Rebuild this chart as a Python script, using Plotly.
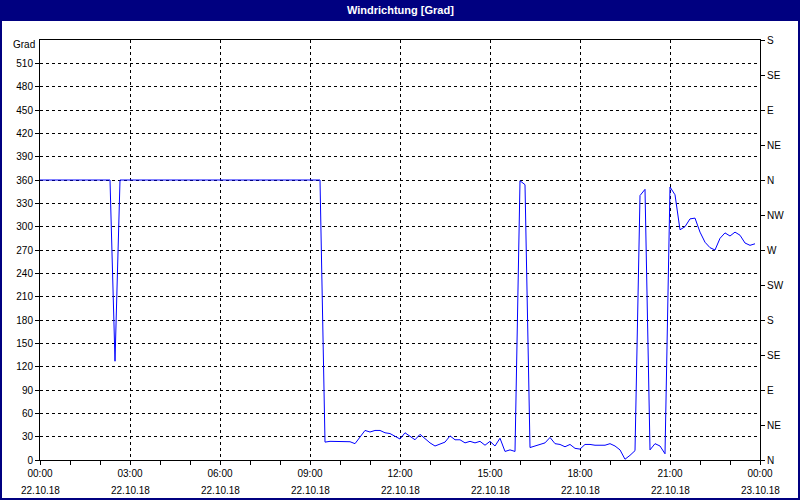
import plotly.graph_objects as go

# ---- data ----
times = [
    "2018-10-22 00:00", "2018-10-22 02:20", "2018-10-22 02:30", "2018-10-22 02:40",
    "2018-10-22 09:20", "2018-10-22 09:30", "2018-10-22 09:40", "2018-10-22 09:50",
    "2018-10-22 10:00", "2018-10-22 10:10", "2018-10-22 10:20", "2018-10-22 10:30",
    "2018-10-22 10:40", "2018-10-22 10:50", "2018-10-22 11:00", "2018-10-22 11:10",
    "2018-10-22 11:20", "2018-10-22 11:30", "2018-10-22 11:40", "2018-10-22 11:50",
    "2018-10-22 12:00", "2018-10-22 12:10", "2018-10-22 12:20", "2018-10-22 12:30",
    "2018-10-22 12:40", "2018-10-22 12:50", "2018-10-22 13:00", "2018-10-22 13:10",
    "2018-10-22 13:20", "2018-10-22 13:30", "2018-10-22 13:40", "2018-10-22 13:50",
    "2018-10-22 14:00", "2018-10-22 14:10", "2018-10-22 14:20", "2018-10-22 14:30",
    "2018-10-22 14:40", "2018-10-22 14:50", "2018-10-22 15:00", "2018-10-22 15:10",
    "2018-10-22 15:20", "2018-10-22 15:30", "2018-10-22 15:40", "2018-10-22 15:50",
    "2018-10-22 16:00", "2018-10-22 16:10", "2018-10-22 16:20", "2018-10-22 16:30",
    "2018-10-22 16:40", "2018-10-22 16:50", "2018-10-22 17:00", "2018-10-22 17:10",
    "2018-10-22 17:20", "2018-10-22 17:30", "2018-10-22 17:40", "2018-10-22 17:50",
    "2018-10-22 18:00", "2018-10-22 18:10", "2018-10-22 18:20", "2018-10-22 18:30",
    "2018-10-22 18:40", "2018-10-22 18:50", "2018-10-22 19:00", "2018-10-22 19:10",
    "2018-10-22 19:20", "2018-10-22 19:30", "2018-10-22 19:40", "2018-10-22 19:50",
    "2018-10-22 20:00", "2018-10-22 20:10", "2018-10-22 20:20", "2018-10-22 20:30",
    "2018-10-22 20:40", "2018-10-22 20:50", "2018-10-22 21:00", "2018-10-22 21:10",
    "2018-10-22 21:20", "2018-10-22 21:30", "2018-10-22 21:40", "2018-10-22 21:50",
    "2018-10-22 22:00", "2018-10-22 22:10", "2018-10-22 22:20", "2018-10-22 22:30",
    "2018-10-22 22:40", "2018-10-22 22:50", "2018-10-22 23:00", "2018-10-22 23:10",
    "2018-10-22 23:20", "2018-10-22 23:30", "2018-10-22 23:40", "2018-10-22 23:50",
]
direction = [
    360, 360, 127, 360,
    360, 23, 24, 24,
    23.5, 23.5, 23.5, 21,
    29, 38, 36, 38,
    38, 35, 34, 31,
    27, 35, 30, 26,
    33, 27, 22, 18,
    20, 23, 31, 26,
    26, 22, 24, 22,
    24, 19, 24, 18,
    28, 11, 13, 11,
    359, 354, 16, 18,
    19, 22, 29, 21,
    20, 17, 20, 15,
    14, 20, 20, 19,
    19, 19, 21, 18,
    13, 1, 6, 12,
    340, 348, 13, 21,
    18, 8, 351, 341,
    296, 300, 310, 311,
    293, 280, 273, 270,
    285, 292, 288, 293,
    289, 279, 276, 278,
]

x_tick_times = ["2018-10-22 00:00", "2018-10-22 03:00", "2018-10-22 06:00",
                "2018-10-22 09:00", "2018-10-22 12:00", "2018-10-22 15:00",
                "2018-10-22 18:00", "2018-10-22 21:00", "2018-10-23 00:00"]
x_tick_hours = ["00:00", "03:00", "06:00", "09:00", "12:00", "15:00",
                "18:00", "21:00", "00:00"]
x_tick_dates = ["22.10.18"] * 8 + ["23.10.18"]

y_ticks = list(range(0, 540, 30))
compass_vals = list(range(0, 541, 45))
compass_labels = ["N", "NE", "E", "SE", "S", "SW", "W", "NW",
                  "N", "NE", "E", "SE", "S"]

NAVY = "#000080"
FONT = "Liberation Sans"

fig = go.Figure()
fig.add_trace(go.Scatter(x=times, y=direction, mode="lines",
                         line=dict(color="#0000FF", width=1),
                         hoverinfo="skip", showlegend=False))
# invisible trace to attach the compass axis
fig.add_trace(go.Scatter(x=times, y=direction, mode="lines", yaxis="y2",
                         line=dict(color="rgba(0,0,0,0)", width=0),
                         hoverinfo="skip", showlegend=False))

fig.update_layout(
    width=800, height=500,
    margin=dict(l=40, r=40, t=40, b=40),
    paper_bgcolor="white", plot_bgcolor="white",
    font=dict(family=FONT, size=10, color="black"),
    xaxis=dict(
        type="date",
        range=["2018-10-22 00:00", "2018-10-23 00:00"],
        tickvals=x_tick_times, ticktext=x_tick_hours,
        showgrid=True, gridcolor="black", gridwidth=1, griddash="3px,3px",
        showline=True, linecolor="black", linewidth=1, mirror=True,
        ticks="outside", ticklen=4, tickcolor="black",
        minor=dict(dtick=3600000, ticks="outside", ticklen=4,
                   tickcolor="black", showgrid=False),
        zeroline=False, fixedrange=True,
        tickfont=dict(family=FONT, size=10, color="black"),
    ),
    yaxis=dict(
        range=[0, 540], tickvals=y_ticks,
        showgrid=True, gridcolor="black", gridwidth=1, griddash="3px,3px",
        showline=True, linecolor="black", linewidth=1, mirror=False,
        ticks="outside", ticklen=4, tickcolor="black",
        zeroline=False, fixedrange=True,
        tickfont=dict(family=FONT, size=10, color="black"),
    ),
    yaxis2=dict(
        range=[0, 540], overlaying="y", side="right",
        tickvals=compass_vals, ticktext=compass_labels,
        showgrid=False, showline=True, linecolor="black", linewidth=1,
        ticks="outside", ticklen=4, tickcolor="black",
        zeroline=False, fixedrange=True,
        tickfont=dict(family=FONT, size=10, color="black"),
    ),
)

# frame decorations: title bar and navy border
W, H = 720.0, 420.0
def px_x(p):
    return (p - 40) / W
def px_y(p):
    return (460 - p) / H

fig.add_shape(type="rect", xref="paper", yref="paper",
              x0=px_x(0), x1=px_x(800), y0=px_y(21), y1=px_y(0),
              fillcolor=NAVY, line=dict(width=0), layer="above")
fig.add_shape(type="rect", xref="paper", yref="paper",
              x0=px_x(1), x1=px_x(799), y0=px_y(499), y1=px_y(1),
              fillcolor="rgba(0,0,0,0)", line=dict(color=NAVY, width=2),
              layer="above")

fig.add_annotation(text="<b>Windrichtung [Grad]</b>", xref="paper", yref="paper",
                   x=0.5, y=px_y(10), xanchor="center", yanchor="middle",
                   showarrow=False, font=dict(family=FONT, size=11, color="white"))
fig.add_annotation(text="Grad", xref="paper", yref="paper",
                   x=px_x(37), y=px_y(45), xanchor="right", yanchor="middle",
                   showarrow=False, font=dict(family=FONT, size=10, color="black"))
for t, d in zip(x_tick_times, x_tick_dates):
    fig.add_annotation(text=d, x=t, xref="x", yref="paper", y=px_y(490),
                       xanchor="center", yanchor="middle", showarrow=False,
                       font=dict(family=FONT, size=10, color="black"))

fig.write_html("out.html",
               config={"displayModeBar": False, "staticPlot": True},
               post_script="document.body.style.margin='0';"
                           "document.body.style.overflow='hidden';")
